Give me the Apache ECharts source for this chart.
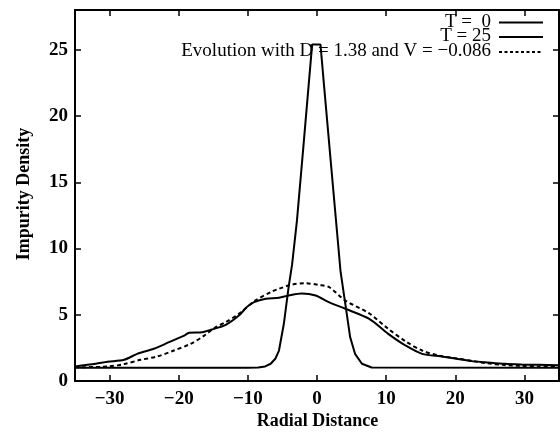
<!DOCTYPE html>
<html>
<head>
<meta charset="utf-8">
<script src="https://cdn.jsdelivr.net/npm/echarts@6/dist/echarts.min.js"></script>
<style>
html,body{margin:0;padding:0;background:#fff;}
#chart{width:560px;height:433px;}
</style>
</head>
<body>
<div id="chart"></div>
<script>
// ---- data ----
const xTicks = [-30, -20, -10, 0, 10, 20, 30];
const yTicks = [0, 5, 10, 15, 20, 25];

const legendLabels = ['T =  0', 'T = 25', 'Evolution with D = 1.38 and V = \u22120.086'];

const radialT0 = [-35, -10, -8.5, -7.5, -6.7, -6, -5.5, -4.8, -4.1, -3.6, -2.9, -2, -1, -0.7, 0.5, 1, 2, 2.75, 3.4, 4.1, 4.8, 5.5, 6.5, 7.9, 35];
const densityT0 = [1.0, 1.0, 1.02, 1.1, 1.3, 1.7, 2.3, 4.3, 7.1, 8.8, 12.1, 17.5, 23.6, 25.4, 25.4, 22.4, 16.5, 12.1, 8.3, 5.8, 3.3, 2.05, 1.3, 1.02, 1.0];

const radialT25 = [-35, -32, -30.3, -27.9, -26, -23.6, -21.4, -19.2, -18.5, -16.6, -15.2, -13.2, -11.3, -10.1, -9.1, -7.4, -5.5, -4.1, -2.2, -0.2, 1.7, 4.1, 7.5, 10.3, 12.8, 15.2, 18, 20, 22.4, 24.3, 27.2, 29.6, 32, 35];
const densityT25 = [1.1, 1.3, 1.45, 1.6, 2.05, 2.43, 2.93, 3.43, 3.64, 3.68, 3.89, 4.24, 4.94, 5.6, 5.95, 6.2, 6.28, 6.45, 6.6, 6.45, 5.95, 5.45, 4.7, 3.56, 2.68, 2.05, 1.85, 1.7, 1.5, 1.42, 1.3, 1.25, 1.22, 1.18];

const radialModel = [-35, -30.3, -27.9, -25.5, -23.1, -20.7, -18.3, -16.3, -14.7, -13.2, -11.3, -8.9, -6.5, -5.5, -3.6, -1.7, 0.25, 1.7, 4.1, 7.5, 10.3, 12.8, 15.2, 17.6, 20, 22.4, 24.3, 27.2, 29.6, 32, 35];
const densityModel = [1.04, 1.09, 1.28, 1.6, 1.85, 2.3, 2.8, 3.43, 4.05, 4.44, 5.07, 6.08, 6.75, 6.96, 7.28, 7.38, 7.25, 7.1, 6.07, 5.12, 3.94, 3.0, 2.3, 1.92, 1.72, 1.52, 1.36, 1.2, 1.14, 1.1, 1.05];

const zip = (xs, ys) => xs.map((x, i) => [x, ys[i]]);

const SERIF = '"Liberation Serif", "Times New Roman", serif';
const minusFmt = v => (v < 0 ? '\u2212' + (-v) : String(v));

const chart = echarts.init(document.getElementById('chart'), null, {renderer: 'canvas', width: 560, height: 433});

const axisLineStyle = {color: '#000', width: 2};
const tickStyle = {color: '#000', width: 1.5};

function xAxisDef(pos, showLabel) {
  return {
    type: 'value', min: -35, max: 35, position: pos,
    axisLine: {show: true, onZero: false, lineStyle: axisLineStyle},
    axisTick: {show: true, inside: true, length: 6, customValues: xTicks, lineStyle: tickStyle},
    axisLabel: {show: showLabel, customValues: xTicks, formatter: minusFmt, fontFamily: SERIF, fontWeight: 'bold', fontSize: 19, color: '#000', margin: 9},
    splitLine: {show: false}
  };
}
function yAxisDef(pos, showLabel) {
  return {
    type: 'value', min: 0, max: 28, position: pos,
    axisLine: {show: true, onZero: false, lineStyle: axisLineStyle},
    axisTick: {show: true, inside: true, length: 6, customValues: yTicks, lineStyle: tickStyle},
    axisLabel: {show: showLabel, customValues: yTicks, fontFamily: SERIF, fontWeight: 'bold', fontSize: 19, color: '#000', margin: 7},
    splitLine: {show: false}
  };
}

const legendRight = 491;
const legendRows = [22, 36.5, 51.5];

chart.setOption({
  animation: false,
  backgroundColor: '#fff',
  grid: {left: 75, right: 1, top: 10, bottom: 52},
  xAxis: [xAxisDef('bottom', true), xAxisDef('top', false)],
  yAxis: [yAxisDef('left', true), yAxisDef('right', false)],
  series: [
    {name: legendLabels[0], type: 'line', data: zip(radialT0, densityT0), showSymbol: false, smooth: false,
     lineStyle: {color: '#000', width: 2}},
    {name: legendLabels[1], type: 'line', data: zip(radialT25, densityT25), showSymbol: false, smooth: 0.3,
     lineStyle: {color: '#000', width: 2}},
    {name: legendLabels[2], type: 'line', data: zip(radialModel, densityModel), showSymbol: false, smooth: 0.3,
     lineStyle: {color: '#000', width: 2, type: [4, 3]}}
  ],
  graphic: [
    {type: 'text', x: 317.5, y: 421, style: {text: 'Radial Distance', font: 'bold 18px ' + SERIF, fill: '#000', align: 'center', verticalAlign: 'middle'}},
    {type: 'text', x: 24, y: 194, rotation: Math.PI / 2, style: {text: 'Impurity Density', font: 'bold 18px ' + SERIF, fill: '#000', align: 'center', verticalAlign: 'middle'}},
    ...legendLabels.map((t, i) => ({type: 'text', x: legendRight, y: legendRows[i], z: 10,
      style: {text: t, font: '19px ' + SERIF, fill: '#000', align: 'right', verticalAlign: 'middle'}})),
    ...legendRows.map((y, i) => ({type: 'line', z: 10, shape: {x1: 499, y1: y + 0.5, x2: 543, y2: y + 0.5},
      style: {stroke: '#000', lineWidth: 1.8, lineDash: i === 2 ? [3, 2.5] : null}}))
  ]
});
</script>
</body>
</html>
